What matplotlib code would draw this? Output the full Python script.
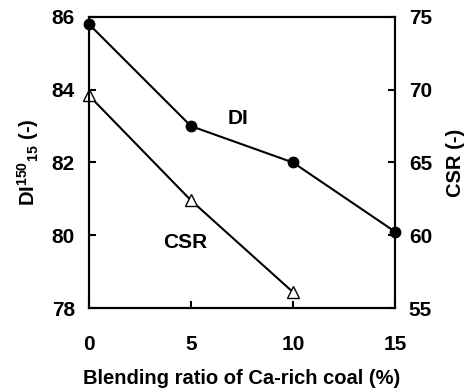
import matplotlib
matplotlib.use("Agg")
import matplotlib.pyplot as plt

plt.rcParams['font.family'] = ['Liberation Sans', 'DejaVu Sans']
plt.rcParams['font.weight'] = 'bold'
plt.rcParams['mathtext.fontset'] = 'custom'
plt.rcParams['mathtext.rm'] = 'Liberation Sans:bold'
plt.rcParams['mathtext.bf'] = 'Liberation Sans:bold'
plt.rcParams['mathtext.default'] = 'bf'

ratio = [0, 5, 10, 15]
di = [85.8, 83.0, 82.0, 80.1]
ratio_csr = [0, 5, 10]
csr = [69.6, 62.4, 56.1]

fig = plt.figure(figsize=(4.73, 3.92), dpi=100)
ax = fig.add_axes([0.188, 0.214, 0.647, 0.743])
ax2 = ax.twinx()

ax.plot(ratio, di, color='black', lw=1.5, marker='o', ms=7.5, zorder=5, clip_on=False)
ax2.plot(ratio_csr, csr, color='black', lw=1.5, marker='^', ms=8,
         markerfacecolor='white', markeredgewidth=1.0, clip_on=False)

ax.set_xlim(0, 15)
ax.set_ylim(78, 86)
ax2.set_ylim(55, 75)
ax.set_xticks([0, 5, 10, 15])
ax.set_yticks([78, 80, 82, 84, 86])
ax2.set_yticks([55, 60, 65, 70, 75])

for a in (ax, ax2):
    for s in a.spines.values():
        s.set_linewidth(1.5)
    a.tick_params(direction='in', length=5, width=1.5, labelsize=15, pad=10)
ax.tick_params(axis='x', pad=19)

ax.set_xlabel('Blending ratio of Ca-rich coal (%)', fontsize=14.5, fontweight='bold', labelpad=11)
ax.set_ylabel(r'DI$^{150}$$_{15}$ (-)', fontsize=14.5, fontweight='bold', labelpad=8)
ax2.set_ylabel('CSR (-)', fontsize=14.5, fontweight='bold', labelpad=10)

ax.text(7.3, 83.2, 'DI', fontsize=15, fontweight='bold', ha='center', va='center')
ax.text(4.7, 79.8, 'CSR', fontsize=15, fontweight='bold', ha='center', va='center')

fig.savefig('out.png', dpi=100)
